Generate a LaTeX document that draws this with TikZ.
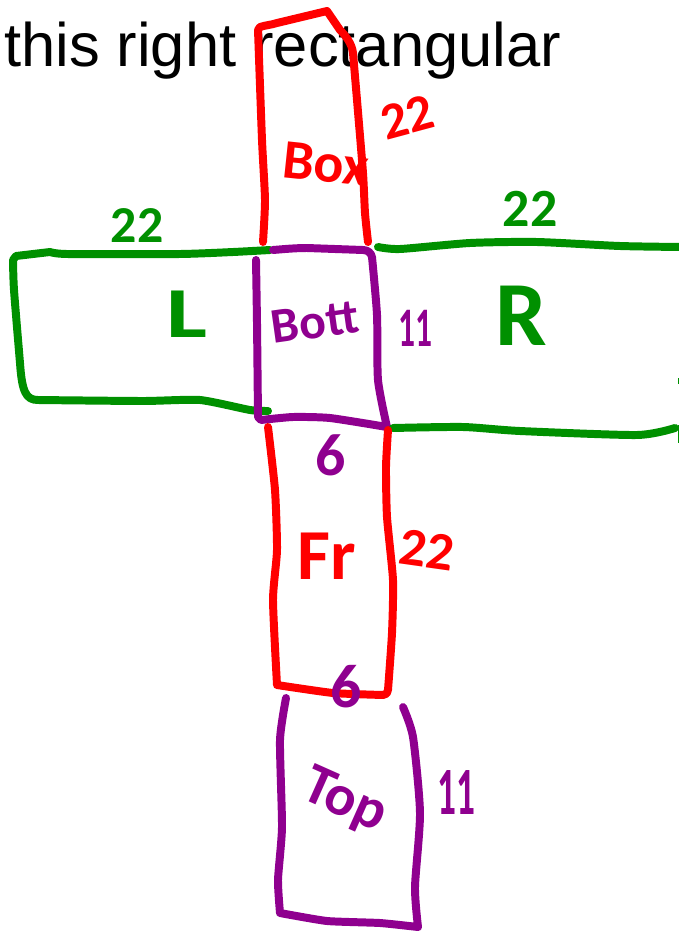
\documentclass[tikz,border=0pt]{standalone}
\usepackage{fontspec}
\setmainfont{Liberation Sans}
\newfontfamily\handfont{Carlito}
\definecolor{inkred}{HTML}{FF0000}
\definecolor{inkgreen}{HTML}{009000}
\definecolor{inkpurple}{HTML}{8F008F}
\tikzset{
  pen/.style={line width=8pt,line cap=round,line join=round},
  redpen/.style={pen,draw=inkred},
  greenpen/.style={pen,draw=inkgreen},
  purplepen/.style={pen,draw=inkpurple},
  hand/.style={inner sep=0pt,font=\handfont\bfseries\fontsize{#1}{#1}\selectfont},
  hand/.default=40
}
\begin{document}
\begin{tikzpicture}[x=1bp,y=-1bp]
\useasboundingbox (0,0) rectangle (679,931);
\fill[white] (0,0) rectangle (679,931);
\node[anchor=base west,inner sep=0pt,font=\fontsize{61.7}{61.7}\selectfont] (title) at (4,66) {this right rectangular};
% Back
\draw[redpen] plot[smooth,tension=0.35] coordinates {(263,242) (265,200) (262,140) (258,30)} -- (260,27) .. controls (266,25) and (271,25) .. (277,23) -- (327,11) -- (340,30) .. controls (346,36) and (352,44) .. (353,53) plot[smooth,tension=0.4] coordinates {(353,53) (357,100) (363,173) (365,213) (368,242)};
% Left
\draw[greenpen] plot[smooth,tension=0.35] coordinates {(270,250) (233,252) (180,254) (67,254) (50,252)} -- (16,256) -- (13,260) plot[smooth,tension=0.4] coordinates {(13,260) (14,290) (20,363)} .. controls (22,392) and (26,400) .. (38,400) plot[smooth,tension=0.35] coordinates {(38,400) (143,401) (200,400) (250,410) (268,411)};
% Bottom
\draw[purplepen] (273,250) .. controls (285,249) and (296,248) .. (307,248) -- (363,250) .. controls (368,250) and (371,253) .. (372,257) plot[smooth,tension=0.4] coordinates {(372,257) (377,315) (378,380) (387,427)} plot[smooth,tension=0.35] coordinates {(387,427) (330,418) (293,417) (261,420)} -- (258,417) plot[smooth,tension=0.3] coordinates {(258,417) (257,323) (256,260)};
% Right
\draw[greenpen] plot[smooth,tension=0.4] coordinates {(378,247) (400,249) (470,243) (537,242) (620,246) (682,247)};
\draw[greenpen] plot[smooth,tension=0.4] coordinates {(393,428) (463,427) (520,431) (637,435) (675,428)};
\draw[inkgreen,line width=2pt] (679,378) -- (679,384) (679,425) -- (679,443);
% Front
\draw[redpen] plot[smooth,tension=0.35] coordinates {(268,427) (275,490) (277,550) (273,600) (277,685)} plot[smooth,tension=0.3] coordinates {(277,685) (333,693) (383,695)} .. controls (386,695) and (388,693) .. (388,690) plot[smooth,tension=0.35] coordinates {(388,690) (392,633) (393,580) (387,517) (386,467) (388,430)};
% Top
\draw[purplepen] plot[smooth,tension=0.35] coordinates {(286,698) (280,740) (282,827) (278,880) (280,913)} plot[smooth,tension=0.3] coordinates {(280,913) (327,921) (380,923) (418,927)} plot[smooth,tension=0.4] coordinates {(418,927) (415,887) (420,813) (413,737) (403,707)};
% Labels
\node[hand=56,text=inkred,rotate=-6] (box) at (326,164) {Box};
\node[hand=52,text=inkred,rotate=15] (sideb) at (407,117) {22};
\node[hand=52,text=inkgreen] (sidel) at (137,226) {22};
\node[hand=72,text=inkgreen,xscale=1.35,transform shape] (lft) at (187,314) {L};
\node[hand=50,text=inkpurple,rotate=8] (bott) at (315,322) {Bott};
\node[hand=56,text=inkpurple,xscale=.6,transform shape] (elevena) at (415,328) {11};
\node[hand=54,text=inkgreen] (sider) at (530,209) {22};
\node[hand=92,text=inkgreen] (rgt) at (521,316) {R};
\node[hand=60,text=inkpurple] (sixa) at (331,455) {6};
\node[hand=72,text=inkred] (fr) at (327,556) {Fr};
\node[hand=54,text=inkred,rotate=-8] (sidef) at (427,550) {22};
\node[hand=62,text=inkpurple] (sixb) at (346,687) {6};
\node[hand=58,text=inkpurple,rotate=-24] (tp) at (344,802) {Top};
\node[hand=68,text=inkpurple,xscale=.55,transform shape] (elevenb) at (456,792) {11};
\end{tikzpicture}
\end{document}
